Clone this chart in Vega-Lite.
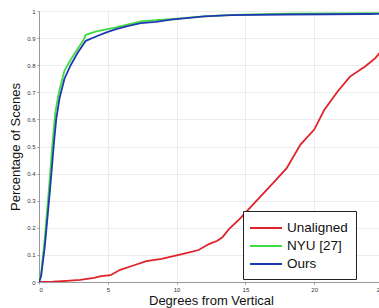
{
  "$schema": "https://vega.github.io/schema/vega-lite/v6.json",
  "autosize": {"type": "none"},
  "padding": {"left": 39, "top": 11, "right": 0, "bottom": 26},
  "width": 344,
  "height": 271,
  "background": "white",
  "config": {
    "font": "Liberation Sans",
    "view": {"stroke": null},
    "axis": {
      "labelFont": "Liberation Sans",
      "titleFont": "Liberation Sans",
      "labelFontSize": 6,
      "labelColor": "#333",
      "titleFontSize": 13,
      "titleFontWeight": "normal",
      "titleColor": "#111",
      "domainColor": "#999",
      "tickColor": "#999",
      "tickSize": 2,
      "gridColor": "#ececec",
      "gridWidth": 1
    }
  },
  "data": {
    "values": [
      {"series": "Unaligned", "deg": 0, "pct": 0},
      {"series": "Unaligned", "deg": 1, "pct": 0.001},
      {"series": "Unaligned", "deg": 2, "pct": 0.004},
      {"series": "Unaligned", "deg": 3, "pct": 0.008},
      {"series": "Unaligned", "deg": 4, "pct": 0.015},
      {"series": "Unaligned", "deg": 4.5, "pct": 0.022},
      {"series": "Unaligned", "deg": 5.2, "pct": 0.025},
      {"series": "Unaligned", "deg": 5.9, "pct": 0.045},
      {"series": "Unaligned", "deg": 6.8, "pct": 0.06},
      {"series": "Unaligned", "deg": 7.8, "pct": 0.077},
      {"series": "Unaligned", "deg": 8.9, "pct": 0.085},
      {"series": "Unaligned", "deg": 10.4, "pct": 0.103},
      {"series": "Unaligned", "deg": 11.6, "pct": 0.118},
      {"series": "Unaligned", "deg": 12.35, "pct": 0.14},
      {"series": "Unaligned", "deg": 12.96, "pct": 0.152},
      {"series": "Unaligned", "deg": 13.33, "pct": 0.165},
      {"series": "Unaligned", "deg": 13.8, "pct": 0.195},
      {"series": "Unaligned", "deg": 14.57, "pct": 0.232},
      {"series": "Unaligned", "deg": 15.8, "pct": 0.299},
      {"series": "Unaligned", "deg": 17.04, "pct": 0.367},
      {"series": "Unaligned", "deg": 18.0, "pct": 0.42},
      {"series": "Unaligned", "deg": 19.0, "pct": 0.507},
      {"series": "Unaligned", "deg": 20.0, "pct": 0.5625},
      {"series": "Unaligned", "deg": 20.74, "pct": 0.636},
      {"series": "Unaligned", "deg": 21.7, "pct": 0.703},
      {"series": "Unaligned", "deg": 22.6, "pct": 0.758},
      {"series": "Unaligned", "deg": 23.7, "pct": 0.795},
      {"series": "Unaligned", "deg": 24.44, "pct": 0.826},
      {"series": "Unaligned", "deg": 25, "pct": 0.86},
      {"series": "NYU [27]", "deg": 0, "pct": 0},
      {"series": "NYU [27]", "deg": 0.15, "pct": 0.03},
      {"series": "NYU [27]", "deg": 0.4, "pct": 0.15},
      {"series": "NYU [27]", "deg": 0.6, "pct": 0.27},
      {"series": "NYU [27]", "deg": 0.75, "pct": 0.36},
      {"series": "NYU [27]", "deg": 0.9, "pct": 0.46},
      {"series": "NYU [27]", "deg": 1.05, "pct": 0.55},
      {"series": "NYU [27]", "deg": 1.2, "pct": 0.63},
      {"series": "NYU [27]", "deg": 1.45, "pct": 0.7},
      {"series": "NYU [27]", "deg": 1.85, "pct": 0.78},
      {"series": "NYU [27]", "deg": 2.3, "pct": 0.82},
      {"series": "NYU [27]", "deg": 2.8, "pct": 0.86},
      {"series": "NYU [27]", "deg": 3.2, "pct": 0.89},
      {"series": "NYU [27]", "deg": 3.4, "pct": 0.912},
      {"series": "NYU [27]", "deg": 4.1, "pct": 0.924},
      {"series": "NYU [27]", "deg": 5.6, "pct": 0.94},
      {"series": "NYU [27]", "deg": 7.4, "pct": 0.962},
      {"series": "NYU [27]", "deg": 8.5, "pct": 0.966},
      {"series": "NYU [27]", "deg": 9.6, "pct": 0.97},
      {"series": "NYU [27]", "deg": 12, "pct": 0.98},
      {"series": "NYU [27]", "deg": 14, "pct": 0.986},
      {"series": "NYU [27]", "deg": 18, "pct": 0.99},
      {"series": "NYU [27]", "deg": 25, "pct": 0.992},
      {"series": "Ours", "deg": 0, "pct": 0},
      {"series": "Ours", "deg": 0.15, "pct": 0.02},
      {"series": "Ours", "deg": 0.42, "pct": 0.13},
      {"series": "Ours", "deg": 0.62, "pct": 0.24},
      {"series": "Ours", "deg": 0.8, "pct": 0.34},
      {"series": "Ours", "deg": 0.95, "pct": 0.43},
      {"series": "Ours", "deg": 1.08, "pct": 0.51},
      {"series": "Ours", "deg": 1.25, "pct": 0.6},
      {"series": "Ours", "deg": 1.5, "pct": 0.68},
      {"series": "Ours", "deg": 1.85, "pct": 0.75},
      {"series": "Ours", "deg": 2.3, "pct": 0.8},
      {"series": "Ours", "deg": 2.8, "pct": 0.845},
      {"series": "Ours", "deg": 3.4, "pct": 0.89},
      {"series": "Ours", "deg": 4.1, "pct": 0.905},
      {"series": "Ours", "deg": 4.85, "pct": 0.92},
      {"series": "Ours", "deg": 5.6, "pct": 0.933},
      {"series": "Ours", "deg": 6.5, "pct": 0.945},
      {"series": "Ours", "deg": 7.4, "pct": 0.955},
      {"series": "Ours", "deg": 8.5, "pct": 0.96},
      {"series": "Ours", "deg": 9.6, "pct": 0.968},
      {"series": "Ours", "deg": 12, "pct": 0.98},
      {"series": "Ours", "deg": 14, "pct": 0.985},
      {"series": "Ours", "deg": 18, "pct": 0.987},
      {"series": "Ours", "deg": 23.8, "pct": 0.989},
      {"series": "Ours", "deg": 25, "pct": 0.99}
    ]
  },
  "mark": {"type": "line", "strokeWidth": 1.8, "clip": true},
  "encoding": {
    "x": {
      "field": "deg",
      "type": "quantitative",
      "scale": {"domain": [0, 25], "nice": false},
      "axis": {
        "values": [0, 5, 10, 15, 20, 25],
        "title": "Degrees from Vertical",
        "titlePadding": 2,
        "labelPadding": 2,
        "grid": true
      }
    },
    "y": {
      "field": "pct",
      "type": "quantitative",
      "scale": {"domain": [0, 1], "nice": false},
      "axis": {
        "values": [0, 0.1, 0.2, 0.3, 0.4, 0.5, 0.6, 0.7, 0.8, 0.9, 1],
        "format": "~g",
        "title": "Percentage of Scenes",
        "titlePadding": 4,
        "labelPadding": 2,
        "grid": true
      }
    },
    "color": {
      "field": "series",
      "type": "nominal",
      "sort": ["Unaligned", "NYU [27]", "Ours"],
      "scale": {
        "domain": ["Unaligned", "NYU [27]", "Ours"],
        "range": ["#e0222b", "#3fdc3f", "#2038b0"]
      },
      "legend": {
        "title": null,
        "orient": "none",
        "legendX": 204,
        "legendY": 200,
        "direction": "vertical",
        "symbolType": "M-2,0H2",
        "symbolSize": 256,
        "symbolStrokeWidth": 2,
        "symbolOffset": 6,
        "labelFont": "Liberation Sans",
        "labelFontSize": 13.5,
        "labelColor": "#111",
        "labelOffset": 12,
        "labelExpr": "datum.label + '\u00a0\u00a0\u00a0\u00a0\u00a0\u00a0\u00a0\u00a0'",
        "fillColor": "white",
        "strokeColor": "#222",
        "padding": 8,
        "rowPadding": 2,
        "labelLimit": 200
      }
    }
  }
}
